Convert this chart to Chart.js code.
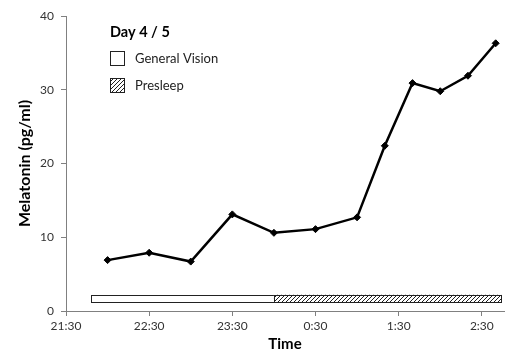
<!DOCTYPE html>
<html>
<head>
<meta charset="utf-8">
<script src="https://cdn.jsdelivr.net/npm/chart.js@4.4.1/dist/chart.umd.min.js"></script>
<style>
  html, body { margin: 0; padding: 0; background: #fff; }
  #wrap { width: 509px; height: 353px; }
</style>
</head>
<body>
<div id="wrap"><canvas id="melatonin_chart"></canvas></div>
<script>
// sample times and melatonin values (pg/ml)
const sampleTimes = ["22:00", "22:30", "23:00", "23:30", "0:00", "0:30", "1:00", "1:20", "1:40", "2:00", "2:20", "2:40"];
const melatonin = [6.9, 7.9, 6.7, 13.1, 10.6, 11.1, 12.7, 22.4, 30.9, 29.8, 31.9, 36.3];

// x axis tick labels
const tickTimes = ["21:30", "22:30", "23:30", "0:30", "1:30", "2:30"];

// phases drawn as a bar along the bottom
const phaseNames = ["General Vision", "Presleep"];
const phaseStart = ["21:48", "0:00"];
const phaseEnd = ["0:00", "2:44"];
const phaseLow = [1.2, 1.2];
const phaseHigh = [2.2, 2.2];

const legendTitle = "Day 4 / 5";
const FONT = "Lato";

// minutes after 21:30
function toMinutes(t) {
    var parts = t.split(":");
    var m = parseInt(parts[0]) * 60 + parseInt(parts[1]);
    if (m < 12 * 60) m += 24 * 60;
    return m - (21 * 60 + 30);
}
function toLabel(m) {
    var total = (m + 21 * 60 + 30) % (24 * 60);
    var h = Math.floor(total / 60);
    var mm = total % 60;
    return h + ":" + (mm < 10 ? "0" : "") + mm;
}

const tickValues = tickTimes.map(toMinutes);

function hatchPattern(ctx) {
    var c = document.createElement("canvas");
    c.width = 4;
    c.height = 4;
    var p = c.getContext("2d");
    p.fillStyle = "#fff";
    p.fillRect(0, 0, 4, 4);
    p.strokeStyle = "#222";
    p.lineWidth = 1;
    p.beginPath();
    p.moveTo(0, 4);
    p.lineTo(4, 0);
    p.moveTo(-1, 1);
    p.lineTo(1, -1);
    p.moveTo(3, 5);
    p.lineTo(5, 3);
    p.stroke();
    return ctx.createPattern(c, "repeat");
}

const phasePlugin = {
    id: "phases",
    beforeDatasetsDraw(chart) {
        const ctx = chart.ctx;
        const xs = chart.scales.x;
        const ys = chart.scales.y;
        const fills = ["#fff", hatchPattern(ctx)];
        ctx.save();
        for (var i = 0; i < phaseNames.length; i++) {
            var x0 = xs.getPixelForValue(toMinutes(phaseStart[i]));
            var x1 = xs.getPixelForValue(toMinutes(phaseEnd[i]));
            var y0 = ys.getPixelForValue(phaseHigh[i]);
            var y1 = ys.getPixelForValue(phaseLow[i]);
            ctx.fillStyle = fills[i];
            ctx.fillRect(x0, y0, x1 - x0, y1 - y0);
            ctx.strokeStyle = "#222";
            ctx.lineWidth = 1;
            ctx.strokeRect(Math.round(x0) + 0.5, Math.round(y0) + 0.5, Math.round(x1 - x0), Math.round(y1 - y0));
        }

        // legend in the upper left of the plot
        var left = chart.chartArea.left + 44;
        var top = chart.chartArea.top;
        ctx.fillStyle = "#000";
        ctx.textBaseline = "middle";
        ctx.font = "bold 14.5px " + FONT;
        ctx.fillText(legendTitle, left, top + 16);
        ctx.font = "13px " + FONT;
        for (var j = 0; j < phaseNames.length; j++) {
            var by = top + 35 + j * 27;
            ctx.fillStyle = fills[j];
            ctx.fillRect(left, by, 14, 14);
            ctx.strokeStyle = "#222";
            ctx.strokeRect(left + 0.5, by + 0.5, 14, 14);
            ctx.fillStyle = "#222";
            ctx.fillText(phaseNames[j], left + 25, by + 8);
        }
        ctx.restore();
    },
};

new Chart(document.getElementById("melatonin_chart"), {
    type: "line",
    data: {
        datasets: [
            {
                data: sampleTimes.map((t, i) => ({ x: toMinutes(t), y: melatonin[i] })),
                borderColor: "#000",
                backgroundColor: "#000",
                borderWidth: 2.5,
                pointStyle: "rectRot",
                pointRadius: 3.5,
                pointBorderWidth: 1,
                tension: 0,
            },
        ],
    },
    options: {
        responsive: true,
        maintainAspectRatio: false,
        animation: false,
        layout: {
            padding: { top: 16, right: 0, left: 0, bottom: 0 },
        },
        plugins: {
            legend: { display: false },
            tooltip: { enabled: false },
        },
        scales: {
            x: {
                type: "linear",
                min: 0,
                max: 316,
                afterBuildTicks: (scale) => {
                    scale.ticks = tickValues.map((v) => ({ value: v }));
                },
                afterFit: (scale) => {
                    scale.height = 42;
                },
                ticks: {
                    callback: (v) => toLabel(v),
                    color: "#333",
                    font: { family: FONT, size: 12 },
                    padding: 3,
                    maxRotation: 0,
                },
                grid: {
                    drawOnChartArea: false,
                    tickLength: 5,
                    color: "#808080",
                },
                border: { color: "#808080", width: 1 },
                title: {
                    display: true,
                    text: "Time",
                    font: { family: FONT, size: 15, weight: "bold" },
                    color: "#000",
                    padding: { top: 0, bottom: 0 },
                },
            },
            y: {
                min: 0,
                max: 40,
                afterFit: (scale) => {
                    scale.width = 66;
                },
                ticks: {
                    stepSize: 10,
                    color: "#333",
                    font: { family: FONT, size: 12 },
                    padding: 7,
                },
                grid: {
                    drawOnChartArea: false,
                    tickLength: 5,
                    color: "#808080",
                },
                border: { color: "#808080", width: 1 },
                title: {
                    display: true,
                    text: "Melatonin (pg/ml)",
                    font: { family: FONT, size: 16, weight: "bold" },
                    color: "#000",
                    padding: { top: 15, bottom: 0 },
                },
            },
        },
    },
    plugins: [phasePlugin],
});
</script>
</body>
</html>
